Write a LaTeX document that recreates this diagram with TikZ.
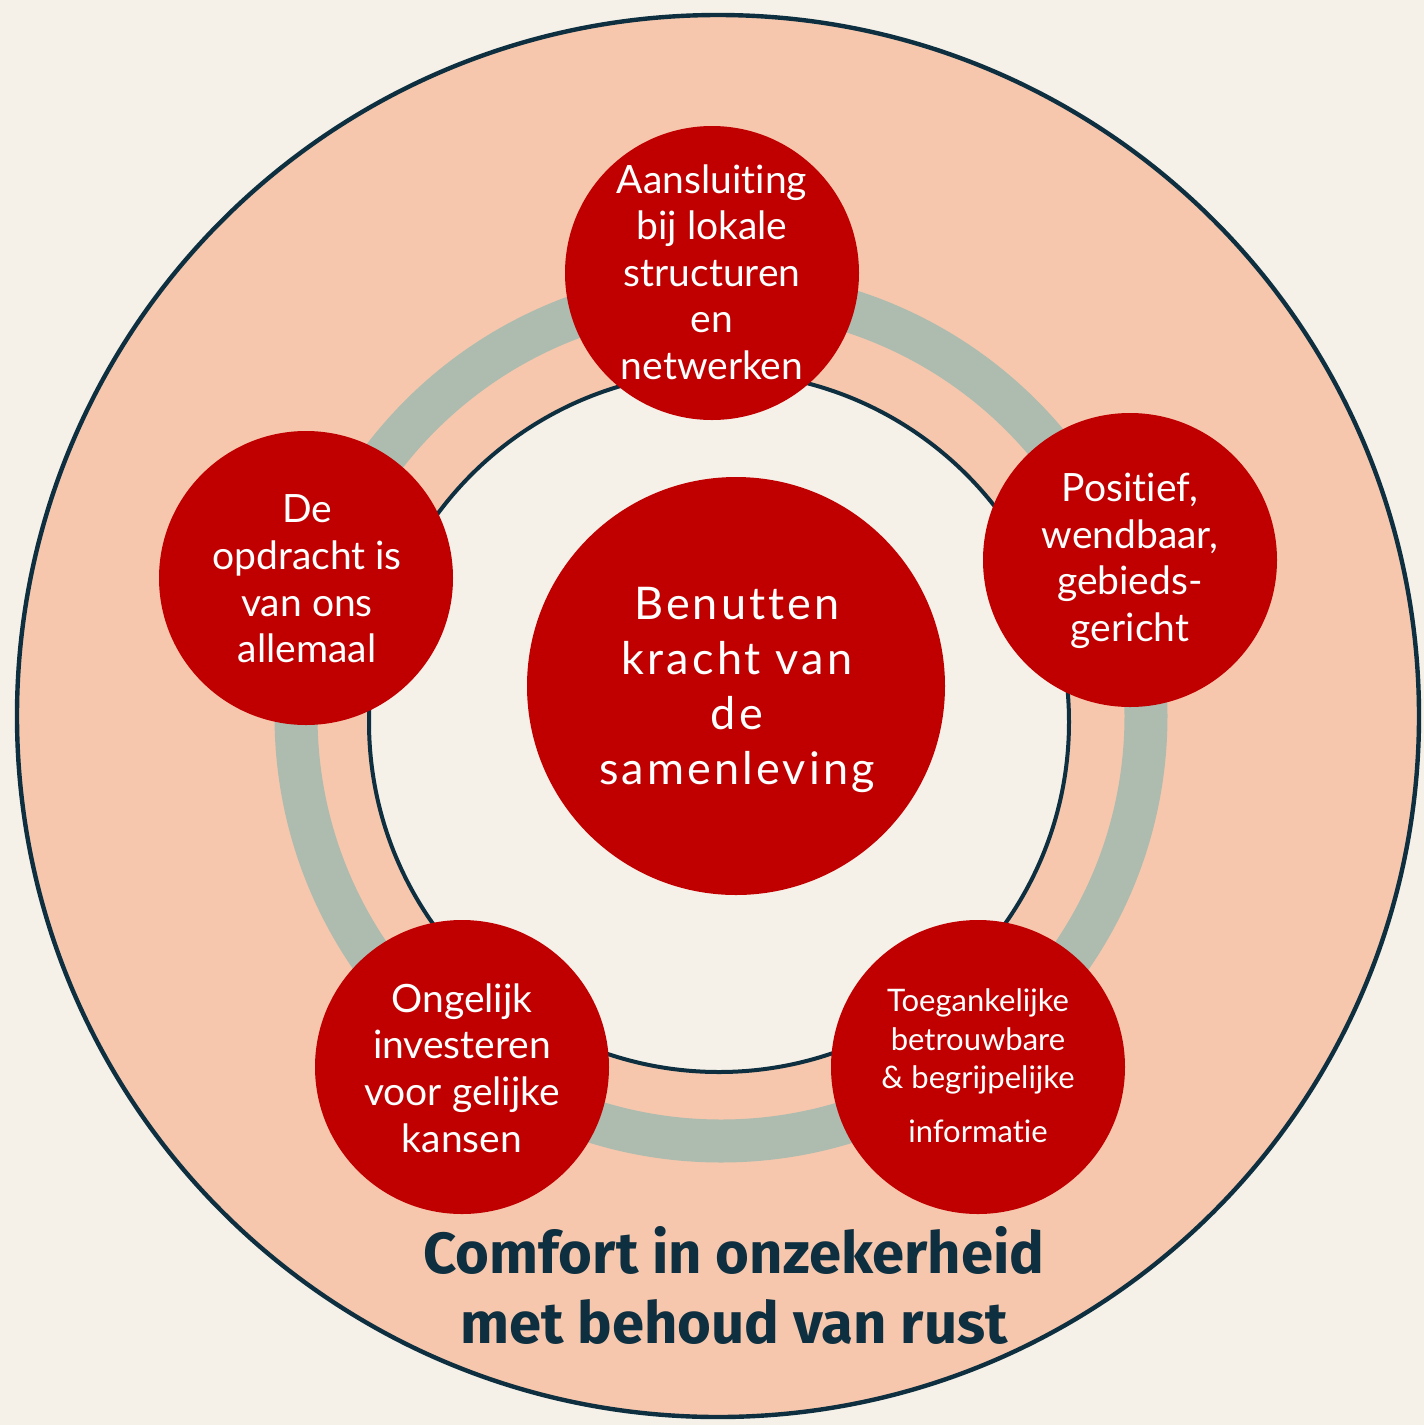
\documentclass[tikz,border=0pt]{standalone}
\usepackage{fontspec}
\setmainfont[Ligatures=NoCommon]{Lato}
\newfontfamily\centerfont[LetterSpace=7,Ligatures=NoCommon]{Lato}
\newfontfamily\titlefont{Fira Sans}
\definecolor{cream}{HTML}{F5F0E8}
\definecolor{peach}{HTML}{F6C7AD}
\definecolor{ringgray}{HTML}{ADBCAF}
\definecolor{deepred}{HTML}{C00000}
\definecolor{darkteal}{HTML}{0E2F3F}
\tikzset{
  redc/.style={circle, fill=deepred, draw=none, minimum size=147pt, inner sep=0pt},
  bigred/.style={circle, fill=deepred, draw=none, minimum size=209pt, inner sep=0pt},
  smalltxt/.style={text=white, align=center, inner sep=0pt, font=\fontsize{19.5pt}{23.3pt}\selectfont},
  tinytxt/.style={text=white, align=center, inner sep=0pt, font=\fontsize{15.5pt}{19.3pt}\selectfont},
  centertxt/.style={text=white, align=center, inner sep=0pt, font=\centerfont\fontsize{22.5pt}{27.5pt}\selectfont},
  titletxt/.style={text=darkteal, align=center, inner sep=0pt, font=\titlefont\bfseries\fontsize{29pt}{35pt}\selectfont},
}
\begin{document}
\begin{tikzpicture}[x=0.5pt,y=-0.5pt]
\fill[cream] (0,0) rectangle (1424,1425);
\useasboundingbox (0,0) rectangle (1424,1425);
% outer circle
\coordinate (oc) at (718,716);
\draw[fill=peach, draw=darkteal, line width=2.2pt] (oc) circle[radius=350.5pt];
% gray ring
\coordinate (rc) at (721,716);
\draw[draw=ringgray, line width=21.5pt] (rc) circle[radius=212.5pt];
% inner circle
\coordinate (ic) at (719,722);
\draw[fill=cream, draw=darkteal, line width=2pt] (ic) circle[radius=175pt];
% red circles
\node[redc] (top) at (712,273) {};
\node[redc] (right) at (1130,560) {};
\node[redc] (left) at (306,578) {};
\node[redc] (bl) at (462,1067) {};
\node[redc] (br) at (978,1067) {};
\node[bigred] (center) at (736,686) {};
% texts
\node[smalltxt] (ttop) at (712,272) {Aansluiting\\bij lokale\\structuren\\en\\netwerken};
\node[smalltxt] (tright) at (1130,561) {Positief,\\wendbaar,\\gebieds-\\gericht};
\node[smalltxt] (tleft) at (307,579) {De\\opdracht is\\van ons\\allemaal};
\node[smalltxt] (tbl) at (462,1068) {Ongelijk\\investeren\\voor gelijke\\kansen};
\node[tinytxt] (tbr) at (978,1066) {Toegankelijke\\betrouwbare\\\&~begrijpelijke\\[7.7pt]informatie};
\node[centertxt] (tcenter) at (737,690) {Benutten\\kracht van\\de\\samenleving};
\node[titletxt] (title) at (734,1285) {Comfort in onzekerheid\\met behoud van rust};
\end{tikzpicture}
\end{document}
